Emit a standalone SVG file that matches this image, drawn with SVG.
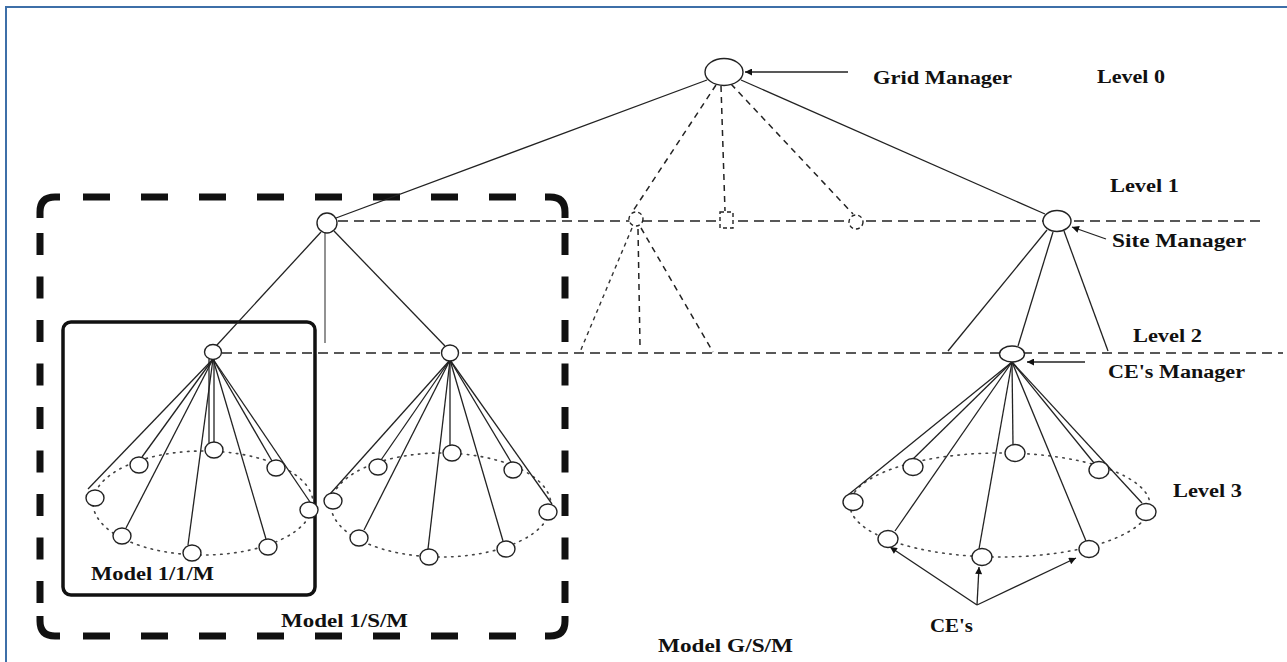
<svg xmlns="http://www.w3.org/2000/svg" width="1287" height="662" viewBox="0 0 1287 662">
<style>
.bg{fill:#fff}
.ln{stroke:#222;stroke-width:1.3;fill:none}
.gl{stroke:#777;stroke-width:1.6;fill:none}
.ds{stroke:#222;stroke-width:1.5;stroke-dasharray:10 6;fill:none}
.dd{stroke:#222;stroke-width:1.5;stroke-dasharray:6 5;fill:none}
.dt{stroke:#333;stroke-width:1.4;stroke-dasharray:4 4;fill:none}
.dot{stroke:#444;stroke-width:1.6;stroke-dasharray:1.5 5.5;stroke-linecap:round;fill:none}
.nd{fill:#fff;stroke:#222;stroke-width:1.4}
.dn{fill:#fff;stroke:#222;stroke-width:1.4;stroke-dasharray:4 3}
.c{fill:#333}
.tb{stroke:#111;stroke-width:7;fill:none}
.th{stroke:#111;stroke-width:7;fill:none;stroke-dasharray:27 31}
.tv{stroke:#111;stroke-width:7;fill:none;stroke-dasharray:22 21.5}
.sb{stroke:#111;stroke-width:3.5;fill:none}
.t{font-family:"Liberation Serif","DejaVu Serif",serif;font-weight:bold;font-size:18px;fill:#111}
</style>
<defs>
<marker id="ah" viewBox="0 0 10 10" refX="10" refY="5" markerWidth="9" markerHeight="7" markerUnits="userSpaceOnUse" orient="auto">
<path d="M0,0 L10,5 L0,10 z" fill="#111"/>
</marker>
</defs>
<rect class="bg" x="0" y="0" width="1287" height="662"/>
<path d="M6,662 V7 H1287" stroke="#3d6fa8" stroke-width="2" fill="none"/>

<g id="model-boxes">
<path class="tb" d="M40,218 L40,212 Q40,197 55,197 L60,197"/>
<path class="tb" d="M545,197 L550,197 Q565,197 565,212 L565,218"/>
<path class="tb" d="M40,616 L40,621 Q40,636 55,636 L60,636"/>
<path class="tb" d="M545,636 L550,636 Q565,636 565,621 L565,616"/>
<path class="th" d="M83,197 H545"/>
<path class="th" d="M83,636 H545"/>
<path class="tv" d="M40,233 V610"/>
<path class="tv" d="M565,233 V610"/>
<rect class="sb" x="63" y="322" width="252" height="273" rx="8"/>
</g>

<g id="connectors">
<line class="ds" x1="338" y1="221" x2="1262" y2="221"/>
<line class="ds" x1="222" y1="353" x2="1283" y2="353"/>
<line class="ln" x1="707" y1="80" x2="336" y2="218"/>
<line class="ln" x1="741" y1="80" x2="1045" y2="214"/>
<line class="dd" x1="716" y1="85" x2="633" y2="211"/>
<line class="dd" x1="721" y1="86" x2="725" y2="211"/>
<line class="dd" x1="731" y1="84" x2="853" y2="214"/>
<line class="ln" x1="848" y1="72" x2="745" y2="72" marker-end="url(#ah)"/>
<line class="dt" x1="632" y1="228" x2="580" y2="352"/>
<line class="dd" x1="638" y1="229" x2="640" y2="345"/>
<line class="dd" x1="641" y1="228" x2="713" y2="352"/>
<line class="ln" x1="321" y1="232" x2="217" y2="345"/>
<line class="gl" x1="325" y1="233" x2="325" y2="343"/>
<line class="ln" x1="334" y1="231" x2="445" y2="346"/>
<line class="ln" x1="1047" y1="230" x2="948" y2="351"/>
<line class="ln" x1="1053" y1="232" x2="1018" y2="346"/>
<line class="ln" x1="1064" y1="231" x2="1108" y2="351"/>
<line class="ln" x1="1106" y1="239" x2="1072" y2="227" marker-end="url(#ah)"/>
<line class="ln" x1="1085" y1="362" x2="1027" y2="362" marker-end="url(#ah)"/>

<ellipse class="dot" cx="203" cy="503" rx="110" ry="52"/>
<ellipse class="dot" cx="441" cy="505" rx="110" ry="52"/>
<ellipse class="dot" cx="1000" cy="505" rx="150" ry="52"/>

<g id="fan-a">
<line class="ln" x1="213" y1="359" x2="88" y2="489"/>
<line class="ln" x1="213" y1="359" x2="142" y2="457"/>
<line class="ln" x1="213" y1="359" x2="126" y2="528"/>
<line class="ln" x1="213" y1="359" x2="188" y2="545"/>
<line class="ln" x1="209" y1="359" x2="209" y2="443"/>
<line class="ln" x1="214" y1="359" x2="214" y2="443"/>
<line class="ln" x1="213" y1="359" x2="266" y2="539"/>
<line class="ln" x1="213" y1="359" x2="272" y2="461"/>
<line class="ln" x1="213" y1="359" x2="310" y2="502"/>
</g>
<g id="fan-b">
<line class="ln" x1="450" y1="360" x2="330" y2="494"/>
<line class="ln" x1="450" y1="360" x2="381" y2="460"/>
<line class="ln" x1="450" y1="360" x2="364" y2="530"/>
<line class="ln" x1="450" y1="360" x2="428" y2="549"/>
<line class="ln" x1="450" y1="360" x2="450" y2="445"/>
<line class="ln" x1="450" y1="360" x2="503" y2="541"/>
<line class="ln" x1="450" y1="360" x2="511" y2="462"/>
<line class="ln" x1="450" y1="360" x2="552" y2="504"/>
</g>
<g id="fan-c">
<line class="ln" x1="1012" y1="362" x2="848" y2="495"/>
<line class="ln" x1="1012" y1="362" x2="912" y2="460"/>
<line class="ln" x1="1012" y1="362" x2="895" y2="531"/>
<line class="ln" x1="1012" y1="362" x2="979" y2="549"/>
<line class="ln" x1="1012" y1="362" x2="1013" y2="445"/>
<line class="ln" x1="1012" y1="362" x2="1086" y2="541"/>
<line class="ln" x1="1012" y1="362" x2="1094" y2="463"/>
<line class="ln" x1="1012" y1="362" x2="1142" y2="503"/>
</g>
<line class="ln" x1="977" y1="605" x2="890" y2="547" marker-end="url(#ah)"/>
<line class="ln" x1="977" y1="605" x2="979" y2="567" marker-end="url(#ah)"/>
<line class="ln" x1="977" y1="605" x2="1076" y2="558" marker-end="url(#ah)"/>
</g>

<g id="grid-manager"><ellipse class="nd" cx="724" cy="72" rx="19" ry="13.5"/></g>
<g id="site-left"><circle class="nd" cx="327" cy="223" r="10"/></g>
<g id="site-right"><ellipse class="nd" cx="1057" cy="221" rx="14" ry="10.5"/></g>
<g id="site-dashed-1"><circle class="dn" cx="636" cy="219" r="7"/></g>
<g id="site-dashed-2"><rect class="dn" x="720" y="212" width="13" height="16"/></g>
<g id="site-dashed-3"><circle class="dn" cx="856" cy="222" r="7"/></g>
<g id="ce-manager-a"><ellipse class="nd" cx="213" cy="352" rx="8.5" ry="7.5"/></g>
<g id="ce-manager-b"><ellipse class="nd" cx="450" cy="353" rx="8.5" ry="8"/></g>
<g id="ce-manager-c"><ellipse class="nd" cx="1012" cy="354" rx="12.5" ry="8"/></g>

<g id="ces-a">
<ellipse class="nd" cx="95" cy="498" rx="9" ry="8"/>
<ellipse class="nd" cx="139" cy="465" rx="9" ry="8"/>
<ellipse class="nd" cx="214" cy="450" rx="9" ry="8"/>
<ellipse class="nd" cx="276" cy="468" rx="9" ry="8"/>
<ellipse class="nd" cx="309" cy="510" rx="9" ry="8"/>
<ellipse class="nd" cx="122" cy="536" rx="9" ry="8"/>
<ellipse class="nd" cx="192" cy="553" rx="9" ry="8"/>
<ellipse class="nd" cx="268" cy="547" rx="9" ry="8"/>
</g>
<g id="ces-b">
<ellipse class="nd" cx="333" cy="501" rx="9" ry="8"/>
<ellipse class="nd" cx="378" cy="467" rx="9" ry="8"/>
<ellipse class="nd" cx="452" cy="453" rx="9" ry="8"/>
<ellipse class="nd" cx="513" cy="470" rx="9" ry="8"/>
<ellipse class="nd" cx="548" cy="512" rx="9" ry="8"/>
<ellipse class="nd" cx="359" cy="538" rx="9" ry="8"/>
<ellipse class="nd" cx="429" cy="557" rx="9" ry="8"/>
<ellipse class="nd" cx="506" cy="549" rx="9" ry="8"/>
</g>
<g id="ces-c">
<ellipse class="nd" cx="853" cy="502" rx="10" ry="8.5"/>
<ellipse class="nd" cx="913" cy="467" rx="10" ry="8.5"/>
<ellipse class="nd" cx="1015" cy="453" rx="10" ry="8.5"/>
<ellipse class="nd" cx="1099" cy="470" rx="10" ry="8.5"/>
<ellipse class="nd" cx="1146" cy="512" rx="10" ry="8.5"/>
<ellipse class="nd" cx="888" cy="539" rx="10" ry="8.5"/>
<ellipse class="nd" cx="982" cy="557" rx="10" ry="8.5"/>
<ellipse class="nd" cx="1089" cy="549" rx="10" ry="8.5"/>
</g>

<g id="labels">
<text class="t" x="873" y="84" textLength="139" lengthAdjust="spacingAndGlyphs">Grid Manager</text>
<text class="t" x="1097" y="83" textLength="68" lengthAdjust="spacingAndGlyphs">Level 0</text>
<text class="t" x="1110" y="192" textLength="69" lengthAdjust="spacingAndGlyphs">Level 1</text>
<text class="t" x="1112" y="247" textLength="134" lengthAdjust="spacingAndGlyphs">Site Manager</text>
<text class="t" x="1133" y="342" textLength="69" lengthAdjust="spacingAndGlyphs">Level 2</text>
<text class="t" x="1108" y="378" textLength="137" lengthAdjust="spacingAndGlyphs">CE's Manager</text>
<text class="t" x="1173" y="497" textLength="69" lengthAdjust="spacingAndGlyphs">Level 3</text>
<text class="t" x="930" y="632" textLength="43" lengthAdjust="spacingAndGlyphs">CE's</text>
<text class="t" x="658" y="652" textLength="135" lengthAdjust="spacingAndGlyphs">Model G/S/M</text>
<text class="t" x="281" y="627" textLength="127" lengthAdjust="spacingAndGlyphs">Model 1/S/M</text>
<text class="t" x="91" y="580" textLength="123" lengthAdjust="spacingAndGlyphs">Model 1/1/M</text>
</g>
</svg>
